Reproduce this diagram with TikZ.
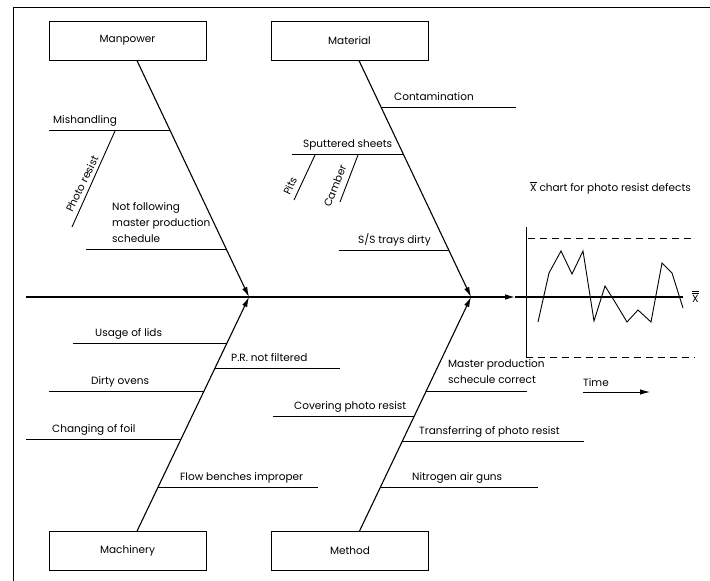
\documentclass[tikz,border=0pt]{standalone}
\usepackage{fontspec}
\setmainfont{Poppins}
\usetikzlibrary{arrows.meta, calc}
\newcommand{\fs}{\fontsize{10.5}{16}\selectfont}
\newcommand{\xbar}{\ensuremath{\overline{\hbox{X}}}}
\newcommand{\xbbar}{\ensuremath{\overline{\overline{\hbox{X}}}}}

\begin{document}
\begin{tikzpicture}[x=1pt, y=-1pt,
    box/.style={draw, line width=0.9pt, minimum width=157pt, minimum height=39pt, inner sep=0pt, font=\fs},
    lbl/.style={anchor=base west, inner sep=0pt, font=\fs},
    bone/.style={line width=1.1pt},
    twig/.style={line width=0.9pt},
    arrow/.style={-{Latex[length=10pt, width=5.5pt]}, line width=1.1pt},
]
\useasboundingbox (0,0) rectangle (710,581);
\draw[line width=0.9pt] (13,581) -- (13,7) -- (710,7);

\node[box] (man) at (127.5,40.5) {Manpower};
\node[box] (mat) at (349.5,40.5) {Material};
\node[box] (mach) at (127.5,551) {Machinery};
\node[box] (meth) at (350,551) {Method};

\coordinate (tail) at (26,297);
\coordinate (hA) at (249,297);
\coordinate (hB) at (471,297);
\coordinate (tip) at (515,297);
\coordinate (cl) at (683,297);

\draw[arrow] (tail) -- (tip);
\draw[bone] (tip) -- (cl);
\draw[arrow] (man) -- (hA);
\draw[arrow] (mach) -- (hA);
\draw[arrow] (mat) -- (hB);
\draw[arrow] (meth) -- (hB);

\coordinate (a1) at ($(man)!0.350!(hA)$);
\coordinate (a2) at ($(man)!0.813!(hA)$);
\coordinate (b1) at ($(mat)!0.261!(hB)$);
\coordinate (b2) at ($(mat)!0.444!(hB)$);
\coordinate (b3) at ($(mat)!0.817!(hB)$);
\coordinate (c1) at ($(mach)!0.819!(hA)$);
\coordinate (c2) at ($(mach)!0.720!(hA)$);
\coordinate (c3) at ($(mach)!0.630!(hA)$);
\coordinate (c4) at ($(mach)!0.441!(hA)$);
\coordinate (c5) at ($(mach)!0.252!(hA)$);
\coordinate (d1) at ($(meth)!0.630!(hB)$);
\coordinate (d2) at ($(meth)!0.531!(hB)$);
\coordinate (d3) at ($(meth)!0.433!(hB)$);
\coordinate (d4) at ($(meth)!0.252!(hB)$);

\draw[twig] (a1) -- (a1 -| 49,0);
\draw[twig] (a2) -- (a2 -| 86,0);
\draw[twig] (b1) -- (b1 -| 516,0);
\draw[twig] (b2) -- (b2 -| 292,0);
\draw[twig] (b3) -- (b3 -| 339,0);
\draw[twig] (c1) -- (c1 -| 73,0);
\draw[twig] (c2) -- (c2 -| 340,0);
\draw[twig] (c3) -- (c3 -| 49,0);
\draw[twig] (c4) -- (c4 -| 26,0);
\draw[twig] (c5) -- (c5 -| 318,0);
\draw[twig] (d1) -- (d1 -| 527,0);
\draw[twig] (d2) -- (d2 -| 273,0);
\draw[twig] (d3) -- (d3 -| 584,0);
\draw[twig] (d4) -- (d4 -| 538,0);

\coordinate (pr1) at (115,131);
\coordinate (pr2) at (72,227);
\coordinate (pt1) at (315,155);
\coordinate (pt2) at (294,200);
\coordinate (cb1) at (358,155);
\coordinate (cb2) at (340,202);
\draw[twig] (pr1) -- (pr2);
\draw[twig] (pt1) -- (pt2);
\draw[twig] (cb1) -- (cb2);

\node[lbl] (mish) at (53,123) {Mishandling};
\node[lbl, anchor=center, rotate=64] (phr) at (82,184) {Photo resist};
\node[lbl, anchor=north west, align=left] (nfm) at (112,202) {Not following\\master production\\schedule};
\node[lbl] (cont) at (394,100) {Contamination};
\node[lbl] (sput) at (303,147) {Sputtered sheets};
\node[lbl, anchor=center, rotate=65] (pits) at (290,186) {Pits};
\node[lbl, anchor=center, rotate=68] (camb) at (335,186) {Camber};
\node[lbl] (sst) at (358,243) {S/S trays dirty};
\node[lbl] (lids) at (95,336) {Usage of lids};
\node[lbl] (prn) at (231,361) {P.R. not filtered};
\node[lbl] (ovens) at (91,384) {Dirty ovens};
\node[lbl] (foil) at (52,432) {Changing of foil};
\node[lbl] (flow) at (180,480) {Flow benches improper};
\node[lbl, anchor=north west, align=left] (mps) at (448,359) {Master production\\schecule correct};
\node[lbl] (cov) at (294,409) {Covering photo resist};
\node[lbl] (trans) at (419,434) {Transferring of photo resist};
\node[lbl] (nit) at (412,480) {Nitrogen air guns};

\node[lbl] (title) at (530,191) {\xbar{} chart for photo resist defects};
\coordinate (axtop) at (526,227);
\coordinate (axbot) at (526,357);
\coordinate (ucl) at (528,238);
\coordinate (uclend) at (693,238);
\coordinate (lclend) at (695,357);
\draw[twig] (axtop) -- (axbot);
\draw[twig, dash pattern=on 7pt off 5pt] (ucl) -- (uclend);
\draw[twig, dash pattern=on 7pt off 5pt] (axbot) -- (lclend);
\draw[twig] plot coordinates {(538,322) (549,273) (561,251) (572,274) (583,251) (594,321) (605,286) (615,302) (627,322) (638,310) (651,322) (662,263) (672,273) (683,308)};
\node[lbl] (xbb) at (692,302) {\xbbar};

\node[lbl] (time) at (583,386) {Time};
\coordinate (t1) at (583,392);
\coordinate (t2) at (650,392);
\draw[arrow, line width=0.9pt] (t1) -- (t2);
\end{tikzpicture}
\end{document}
